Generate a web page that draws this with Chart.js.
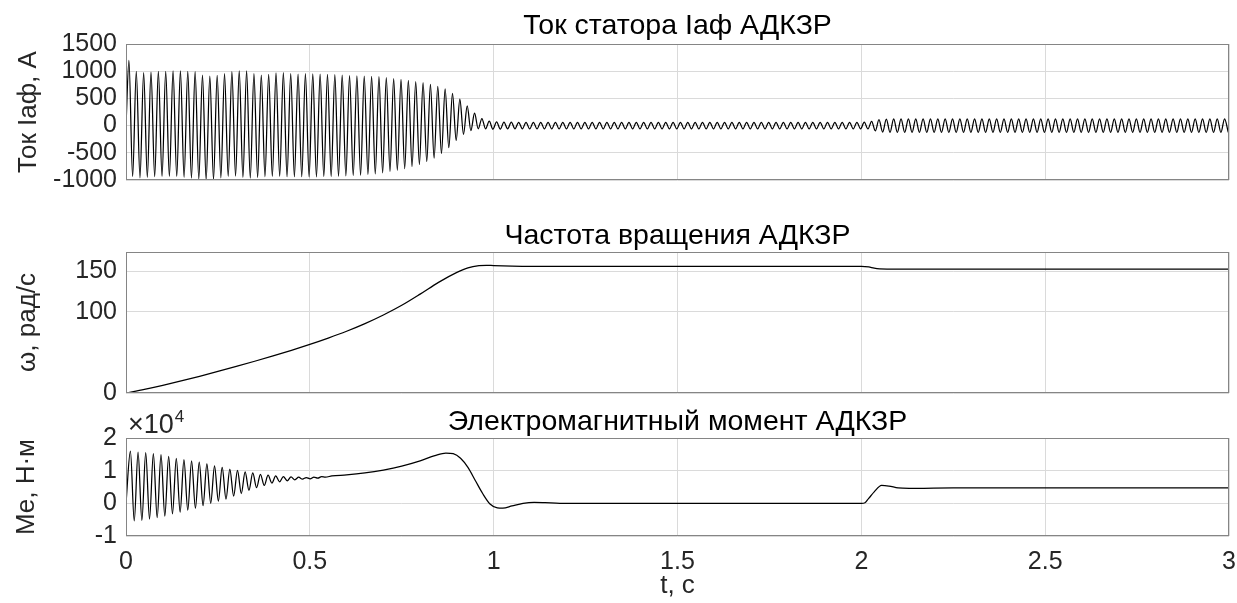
<!DOCTYPE html>
<html>
<head>
<meta charset="utf-8">
<script src="https://cdn.jsdelivr.net/npm/chart.js"></script>
<style>
  body { margin: 0; background: #fff; }
  .panel { position: absolute; left: 0; width: 1237px; }
</style>
</head>
<body>
<div class="panel" style="top:0;height:200px"><canvas id="iaf"></canvas></div>
<div class="panel" style="top:200px;height:200px"><canvas id="omega"></canvas></div>
<div class="panel" style="top:400px;height:203px"><canvas id="me"></canvas></div>
<script>
// stator current Iaf: read peak / trough values, one per half period (50 Hz)
const iafStart = 0.008;
const iafHalf = 0.01;
const iafPeaks = [
  1200, 998, 973, 985, 998, 998, 1004, 1004, 998, 991,
  930, 911, 924, 954, 991, 1004, 1004, 954, 930, 942,
  967, 973, 954, 948, 954,
  950, 944, 940, 935, 930, 920, 915, 910, 905, 900,
  883, 865, 850, 833, 810, 790, 760, 722, 673, 593,
  488, 364, 228, 130, 80, 68, 64,
  62, 61, 60, 60, 60, 60, 60, 60, 60, 60,
  60, 60, 60, 60, 60, 60, 60, 60, 60, 60,
  60, 60, 60, 60, 60, 60, 60, 60, 60, 60,
  60, 60, 60, 60, 60, 60, 60, 60, 60, 60,
  60, 60, 60, 60, 60, 60, 60, 60, 62,
  78, 108, 121,
  125, 125, 125, 125, 125, 125, 125, 125, 125, 125,
  125, 125, 125, 125, 125, 125, 125, 125, 125, 125,
  125, 125, 125, 125, 125, 125, 125, 125, 125, 125,
  125, 125, 125, 125, 125, 125, 125, 125, 125, 125,
  125, 125, 125, 125, 125, 125
];
const iafTroughs = [
  -940, -960, -950, -940, -935, -935, -935, -950, -965, -985,
  -995, -990, -960, -935, -930, -950, -965, -955, -940, -935,
  -935, -940, -940, -940, -944,
  -944, -938, -938, -932, -926, -920, -913, -901, -889, -870,
  -846, -821, -790, -753, -716, -660, -599, -512, -407, -272,
  -160, -93, -58, -60, -66, -64,
  -60, -60, -60, -60, -60, -60, -60, -60, -60, -60,
  -60, -60, -60, -60, -60, -60, -60, -60, -60, -60,
  -60, -60, -60, -60, -60, -60, -60, -60, -60, -60,
  -60, -60, -60, -60, -60, -60, -60, -60, -60, -60,
  -60, -60, -60, -60, -60, -60, -60, -60, -60, -62,
  -96, -118,
  -125, -125, -125, -125, -125, -125, -125, -125, -125, -125,
  -125, -125, -125, -125, -125, -125, -125, -125, -125, -125,
  -125, -125, -125, -125, -125, -125, -125, -125, -125, -125,
  -125, -125, -125, -125, -125, -125, -125, -125, -125, -125,
  -125, -125, -125, -125, -125, -125, -125
];
const iafTicks = [-1000, -500, 0, 500, 1000, 1500];

// rotor speed
const omegaT = [0, 0.05, 0.1, 0.15, 0.2, 0.25, 0.3, 0.35, 0.4, 0.45, 0.5, 0.55, 0.6, 0.65,
  0.7, 0.75, 0.8, 0.85, 0.9, 0.93, 0.96, 0.98, 1.0, 1.05, 1.1, 1.5, 2.0, 2.02, 2.035, 2.05, 2.07, 3.0];
const omegaV = [0, 4.5, 9.5, 14.9, 20.6, 26.6, 32.8, 39.2, 45.8, 52.7, 60, 67.8, 76.2, 85.6,
  96.2, 108.2, 122, 136.5, 148.8, 154.5, 157.2, 157.6, 157.2, 156.5, 156.2, 156.2, 156.2, 155.5, 154, 153.2, 153, 153];
const omegaTicks = [0, 100, 150];

// electromagnetic torque, N*m: oscillating start, then smooth part
const meStart = 0.012;
const meHalf = 0.0104;
const mePeaks = [16000, 15700, 15500, 15200, 14900, 14400, 13800, 13400, 13000, 12600,
  12100, 11500, 11000, 10500, 10100, 9600, 9300, 8900, 8600, 8400,
  8200, 8100, 8000, 7900, 8000, 8200];
const meTroughs = [-5400, -5200, -4800, -4400, -3900, -3200, -2700, -2100, -1500, -700,
  0, 700, 1300, 2200, 3000, 4000, 4800, 5500, 6200, 6600,
  6900, 7200, 7400, 7500, 7700, 8000];
const meT = [0.56, 0.6, 0.65, 0.7, 0.75, 0.8, 0.84, 0.87, 0.89, 0.91, 0.93, 0.95, 0.97, 0.99,
  1.01, 1.025, 1.05, 1.08, 1.11, 1.14, 1.18, 1.3, 2.0, 2.01, 2.02, 2.035, 2.055, 2.075, 2.1, 2.13, 2.17, 2.25, 3.0];
const meV = [8400, 8700, 9300, 10200, 11400, 13000, 14600, 15400, 15200, 13800, 11000, 7000, 3000, -200,
  -1400, -1500, -800, 0, 300, 200, 0, 0, 0, 200, 1500, 3500, 5500, 5300, 4700, 4550, 4600, 4700, 4700];
const meTicks = [-10000, 0, 10000, 20000];

const timeTicks = [0, 0.5, 1, 1.5, 2, 2.5, 3];

function zigzag(start, half, peaks, troughs) {
  const pts = [{x: 0, y: 0}];
  peaks.forEach((p, k) => {
    pts.push({x: start + 2 * half * k, y: p});
    if (k < troughs.length) pts.push({x: start + half + 2 * half * k, y: troughs[k]});
  });
  return pts;
}

const iafData = zigzag(iafStart, iafHalf, iafPeaks, iafTroughs);
const omegaData = omegaT.map((t, i) => ({x: t, y: omegaV[i]}));
const meData = zigzag(meStart, meHalf, mePeaks, meTroughs)
  .concat(meT.map((t, i) => ({x: t, y: meV[i]})));

const FONT = "'Liberation Sans', Arial, sans-serif";
Chart.defaults.font.family = FONT;
Chart.defaults.color = '#262626';

// MATLAB style box round the axes
const boxPlugin = {
  id: 'box',
  afterDraw(chart) {
    const a = chart.chartArea, c = chart.ctx;
    c.save();
    c.strokeStyle = '#858585';
    c.lineWidth = 1;
    c.strokeRect(Math.round(a.left) + 0.5, Math.round(a.top) + 0.5,
      Math.round(a.right - a.left) - 1, Math.round(a.bottom - a.top) - 1);
    c.restore();
  }
};

function panel(id, data, o) {
  return new Chart(document.getElementById(id), {
    type: 'line',
    data: {
      datasets: [{
        data: data,
        borderColor: '#000',
        borderWidth: 1.25,
        pointRadius: 0,
        cubicInterpolationMode: 'monotone',
        fill: false
      }]
    },
    options: {
      responsive: true,
      maintainAspectRatio: false,
      animation: false,
      layout: {padding: {left: 0, right: 8, top: 0, bottom: o.bottom}},
      plugins: {
        legend: {display: false},
        tooltip: {enabled: false},
        title: {
          display: true,
          fullSize: false,
          text: o.title,
          color: '#000',
          font: {size: 28.5, weight: 'normal', lineHeight: 1.1},
          padding: {top: o.titleTop, bottom: o.titleBottom}
        }
      },
      scales: {
        x: {
          type: 'linear',
          min: 0,
          max: 3,
          ticks: {display: o.xLabels, autoSkip: false, padding: 11, maxRotation: 0,
            font: {size: 25}, callback: v => String(v)},
          grid: {color: '#dadada', drawTicks: false},
          border: {display: false},
          title: {display: o.xLabels, text: 't, с', font: {size: 26}, padding: {top: 0, bottom: 2}},
          afterBuildTicks: s => { s.ticks = timeTicks.map(v => ({value: v})); },
          afterFit: s => { s.height = o.xHeight; s.paddingLeft = 0; s.paddingRight = 0; }
        },
        y: {
          min: o.yMin,
          max: o.yMax,
          ticks: {autoSkip: false, padding: 9, font: {size: 25}, callback: o.yFormat},
          grid: {color: '#dadada', drawTicks: false},
          border: {display: false},
          title: {display: true, text: o.yTitle, font: {size: 26}, padding: {top: o.yTitlePad, bottom: 0}},
          afterBuildTicks: s => { s.ticks = o.yTicks.map(v => ({value: v})); },
          afterFit: s => { s.width = 126; s.paddingTop = 0; s.paddingBottom = 0; }
        }
      }
    },
    plugins: [boxPlugin].concat(o.extra || [])
  });
}

panel('iaf', iafData, {
  title: 'Ток статора Iaф АДКЗР', titleTop: 10.8, titleBottom: 1.85, bottom: 20,
  xLabels: false, xHeight: 0,
  yMin: -1000, yMax: 1500, yTicks: iafTicks, yFormat: v => String(v),
  yTitle: 'Ток Iaф, А', yTitlePad: 13
});

panel('omega', omegaData, {
  title: 'Частота вращения АДКЗР', titleTop: 20.3, titleBottom: 0.35, bottom: 7,
  xLabels: false, xHeight: 0,
  yMin: 0, yMax: 174, yTicks: omegaTicks, yFormat: v => String(v),
  yTitle: 'ω, рад/с', yTitlePad: 12
});

// the x10^4 multiplier above the torque axis
const expPlugin = {
  id: 'exponent',
  afterDraw(chart) {
    const c = chart.ctx, left = chart.chartArea.left + 2;
    c.save();
    c.fillStyle = '#262626';
    c.textBaseline = 'alphabetic';
    c.font = '27px ' + FONT;
    c.fillText('×10', left, 33);
    const w = c.measureText('×10').width;
    c.font = '17px ' + FONT;
    c.fillText('4', left + w + 1, 22);
    c.restore();
  }
};

panel('me', meData, {
  title: 'Электромагнитный момент АДКЗР', titleTop: 6.3, titleBottom: 0.35, bottom: 0,
  xLabels: true, xHeight: 67,
  yMin: -10000, yMax: 20000, yTicks: meTicks, yFormat: v => String(v / 10000),
  yTitle: 'Me, Н·м', yTitlePad: 11,
  extra: [expPlugin]
});
</script>
</body>
</html>
